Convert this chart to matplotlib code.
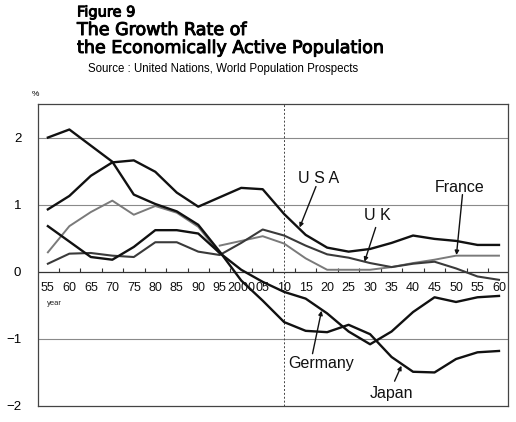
import numpy as np
import matplotlib
matplotlib.use("Agg")
import matplotlib.pyplot as plt
import matplotlib.patheffects as pe

plt.rcParams["font.family"] = ["Liberation Sans", "DejaVu Sans"]

years = list(range(1955, 2065, 5))
tick_labels = ["55", "60", "65", "70", "75", "80", "85", "90", "95", "2000", "05",
               "10", "15", "20", "25", "30", "35", "40", "45", "50", "55", "60"]

japan = [2.0, 2.12, 1.88, 1.64, 1.15, 1.01, 0.9, 0.7, 0.3, -0.13, -0.43, -0.75,
         -0.88, -0.9, -0.79, -0.93, -1.27, -1.49, -1.5, -1.3, -1.2, -1.18]
usa = [0.93, 1.13, 1.43, 1.63, 1.66, 1.49, 1.18, 0.97, 1.11, 1.25, 1.23, 0.86,
       0.55, 0.36, 0.3, 0.34, 0.43, 0.54, 0.49, 0.46, 0.4, 0.4]
germany = [0.68, 0.45, 0.22, 0.18, 0.37, 0.62, 0.62, 0.57, 0.28, 0.03, -0.15, -0.3,
           -0.4, -0.62, -0.89, -1.08, -0.89, -0.6, -0.38, -0.45, -0.38, -0.36]
uk = [0.12, 0.27, 0.28, 0.24, 0.22, 0.44, 0.44, 0.3, 0.25, 0.43, 0.63, 0.54,
      0.39, 0.26, 0.21, 0.13, 0.07, 0.12, 0.15, 0.05, -0.07, -0.12]
# France: estimates up to 1995, projections from 1995 (the chart shows a jump)
france_years_a = list(range(1955, 2000, 5))
france_a = [0.29, 0.68, 0.89, 1.06, 0.85, 0.98, 0.88, 0.67, 0.27]
france_years_b = list(range(1995, 2065, 5))
france_b = [0.39, 0.46, 0.53, 0.42, 0.2, 0.03, 0.03, 0.03, 0.07, 0.13, 0.18, 0.24,
            0.24, 0.24]

fig = plt.figure(figsize=(5.16, 4.22), dpi=100)
ax = fig.add_axes([38 / 516, 1 - 406 / 422, 470 / 516, 302 / 422])

ax.set_xlim(1952.7, 2062.1)
ax.set_ylim(-2, 2.5)

for level in [2, 1, -1]:
    ax.axhline(level, color="#8a8a8a", lw=0.8, zorder=1)
ax.axhline(0, color="#333333", lw=0.9, zorder=1)
ax.axvline(2010, color="#444444", lw=0.7, ls=(0, (2, 2)), zorder=1)

mid_ticks = np.array(years[:-1]) + 2.5
ax.vlines(mid_ticks, 0, 0.06, color="#333333", lw=0.8, zorder=1)

for yr, lab in zip(years, tick_labels):
    ax.annotate(lab, (yr, 0), xytext=(0, -7.5), textcoords="offset points",
                ha="center", va="top", fontsize=9, color="#111111")
ax.annotate("year", (years[0], 0), xytext=(-1, -20), textcoords="offset points",
            ha="left", va="top", fontsize=5.5, color="#222222")

ax.plot(france_years_a, france_a, color="#7a7a7a", lw=1.4, zorder=2)
ax.plot(france_years_b, france_b, color="#7a7a7a", lw=1.4, zorder=2)
ax.plot(years, uk, color="#3a3a3a", lw=1.5, zorder=3)
ax.plot(years, germany, color="#111111", lw=1.7, zorder=4)
ax.plot(years, usa, color="#111111", lw=1.7, zorder=4)
ax.plot(years, japan, color="#111111", lw=1.7, zorder=4)

ax.set_xticks([])
ax.set_yticks([-2, -1, 0, 1, 2])
ax.set_yticklabels(["\u22122", "\u22121", "0", "1", "2"], fontsize=9.5)
ax.tick_params(axis="y", length=0, pad=12)
for spine in ax.spines.values():
    spine.set_color("#444444")
    spine.set_linewidth(0.9)

arrow = dict(arrowstyle="-|>", color="#111111", lw=1.0, mutation_scale=6,
             shrinkA=0, shrinkB=0)
labels = [
    ("U S A", (2018.0, 1.39), (2017.4, 1.27), (2013.6, 0.66)),
    ("U K", (2031.7, 0.84), (2031.3, 0.66), (2028.7, 0.15)),
    ("France", (2050.8, 1.25), (2051.5, 1.15), (2050.1, 0.25)),
    ("Germany", (2018.5, -1.37), (2016.6, -1.22), (2018.7, -0.58)),
    ("Japan", (2035.0, -1.82), (2035.7, -1.63), (2037.3, -1.40)),
]
for text, pos, tail, head in labels:
    ax.text(pos[0], pos[1], text, ha="center", va="center", fontsize=11.5,
            color="#111111")
    ax.annotate("", xy=head, xytext=tail, arrowprops=arrow)

heavy = [pe.withStroke(linewidth=0.7, foreground="black")]
fig.text(35 / 516, 1 - 95 / 422, "%", fontsize=6, ha="center", va="center")
fig.text(77 / 516, 1 - 12 / 422, "Figure 9", fontsize=10.5, family="DejaVu Sans",
         ha="left", va="center", path_effects=heavy)
fig.text(77 / 516, 1 - 30 / 422, "The Growth Rate of", fontsize=12.6,
         family="DejaVu Sans", ha="left", va="center", path_effects=heavy)
fig.text(77 / 516, 1 - 48 / 422, "the Economically Active Population",
         fontsize=12.6, family="DejaVu Sans", ha="left", va="center",
         path_effects=heavy)
fig.text(88 / 516, 1 - 69 / 422,
         "Source : United Nations, World Population Prospects",
         fontsize=8.3, ha="left", va="center")

fig.savefig("out.png", dpi=100)
